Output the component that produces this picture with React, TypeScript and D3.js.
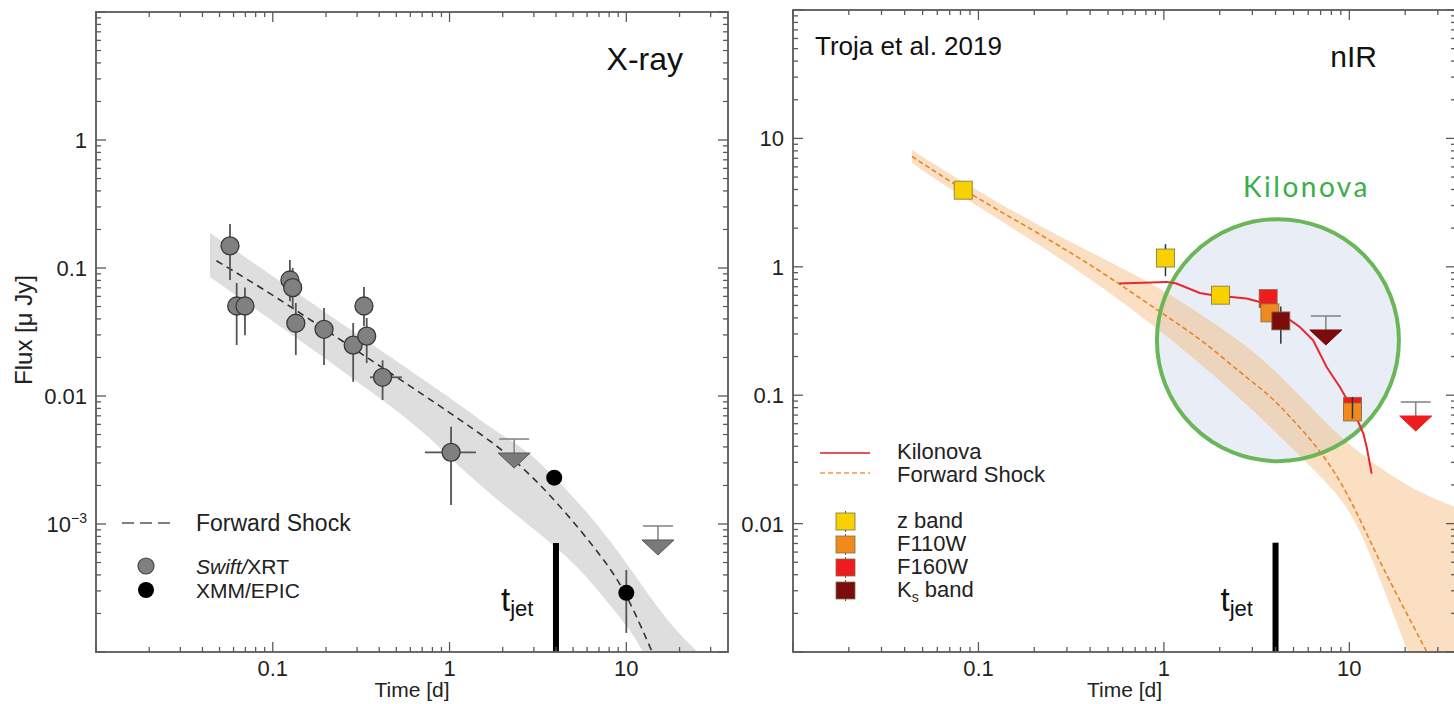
import React from 'react';
import * as d3 from 'd3';

const FONT = '"Liberation Sans", Arial, Helvetica, sans-serif';

// shared time axis (days)
const timeDomain = [0.01, 37.6];
const timeTickValues = [0.1, 1, 10];
const timeTickText = ['0.1', '1', '10'];
const tJet = 4;

// ---------- X-ray panel ----------
const xrayDomain = [1e-4, 10];
const xrayTickValues = [1, 0.1, 0.01, 1e-3];
const xrayTickText = ['1', '0.1', '0.01', '10^-3'];
const xrayJetTop = 7.1e-4;

const xrtTime = [0.0573, 0.0625, 0.0696, 0.125, 0.1296, 0.135, 0.195, 0.285, 0.328, 0.34, 0.418, 1.02];
const xrtFlux = [0.149, 0.0505, 0.0505, 0.0806, 0.0702, 0.037, 0.0332, 0.025, 0.0505, 0.0294, 0.014, 0.00363];
const xrtFluxLo = [0.0806, 0.025, 0.0298, 0.055, 0.048, 0.0209, 0.0175, 0.0129, 0.035, 0.0181, 0.0093, 0.00141];
const xrtFluxHi = [0.221, 0.0764, 0.0704, 0.1155, 0.1, 0.0533, 0.0487, 0.0372, 0.0711, 0.0407, 0.019, 0.00575];
const xrtTimeLo = [null, null, null, null, null, null, null, null, null, null, 0.355, 0.726];
const xrtTimeHi = [null, null, null, null, null, null, null, null, null, null, 0.538, 1.41];

const xmmTime = [3.91, 10];
const xmmFlux = [0.0023, 2.9e-4];
const xmmFluxLo = [null, 1.41e-4];
const xmmFluxHi = [null, 4.37e-4];

const xrtLimitTime = [2.32, 15.1];
const xrtLimitFlux = [0.00461, 9.65e-4];

const xrayFsTime = [0.048, 0.1, 0.3, 0.76, 1.23, 2.25, 4.14, 7.57, 10, 14];
const xrayFsFlux = [0.114, 0.062, 0.0225, 0.0096, 0.0061, 0.0034, 0.00145, 5.2e-4, 2.9e-4, 1e-4];

const xrayBandUpTime = [0.0441, 0.42, 1.0, 1.545, 2.4, 3.04, 4.21, 6.22, 9.2, 13.6, 18.8, 25.4];
const xrayBandUpFlux = [0.1877, 0.0221, 0.0098, 0.0062, 0.0042, 0.0033, 0.0021, 0.00118, 5.9e-4, 2.69e-4, 1.49e-4, 1e-4];
const xrayBandLoTime = [0.0441, 0.621, 0.918, 1.93, 4.99, 7.1, 10.9, 12.4];
const xrayBandLoFlux = [0.0851, 0.0065, 0.00365, 0.00146, 5.24e-4, 2.89e-4, 1.41e-4, 1e-4];

// ---------- nIR panel ----------
const nirDomain = [1e-3, 100];
const nirTickValues = [10, 1, 0.1, 0.01];
const nirTickText = ['10', '1', '0.1', '0.01'];
const nirJetTop = 7.1e-3;

const zTime = [0.0828, 1.02, 2.02];
const zFlux = [3.95, 1.17, 0.601];
const zLo = [null, 0.845, 0.58];
const zHi = [null, 1.5, 0.63];

const f160Time = [3.65, 10.4];
const f160Flux = [0.566, 0.0819];
const f160Lo = [null, null];
const f160Hi = [null, null];

const f110Time = [3.73, 10.4];
const f110Flux = [0.4375, 0.074];
const f110Lo = [null, 0.0657];
const f110Hi = [null, 0.0968];

const ksTime = [4.27];
const ksFlux = [0.379];
const ksLo = [0.252];
const ksHi = [0.49];

const ksLimitTime = [7.47];
const ksLimitFlux = [0.414];
const f160LimitTime = [22.8];
const f160LimitFlux = [0.0885];

const knTime = [0.574, 1.034, 1.17, 1.56, 1.845, 2.79, 3.29, 4.59, 5.41, 6.38, 7.54, 8.89, 10.5, 11.9, 12.4, 13.2];
const knFlux = [0.741, 0.763, 0.741, 0.626, 0.601, 0.566, 0.532, 0.402, 0.34, 0.268, 0.166, 0.116, 0.0762, 0.0502, 0.0395, 0.0245];

const nirFsTime = [0.0438, 0.0828, 0.1974, 0.452, 0.951, 1.62, 2.57, 3.73, 4.78, 6.93, 9.8, 13.9, 18.5, 26.2];
const nirFsFlux = [7.24, 3.95, 1.93, 0.941, 0.445, 0.268, 0.15, 0.1, 0.068, 0.038, 0.0175, 0.0058, 0.0026, 0.001];

const nirBandUpTime = [0.0438, 0.0828, 0.1967, 0.452, 0.771, 1.025, 2.35, 3.59, 5.41, 8.15, 12.3, 21.2, 36.6];
const nirBandUpFlux = [8.11, 4.55, 2.2, 1.2, 0.8, 0.64, 0.293, 0.18, 0.0998, 0.0533, 0.0322, 0.0188, 0.0136];
const nirBandLoTime = [0.0438, 0.0828, 0.1967, 0.452, 0.951, 1.56, 2.91, 4.6, 6.93, 10.3, 13.7, 17.4, 20.7];
const nirBandLoFlux = [6.42, 3.45, 1.6, 0.72, 0.32, 0.177, 0.081, 0.0422, 0.0238, 0.0127, 4.72e-3, 1.93e-3, 1e-3];

// kilonova circle annotation (centre in data units, radius in px)
const kilonovaCentre = [4.12, 0.268];
const kilonovaRadius = 121;

const colors = {
  z: '#f7d200',
  f110: '#f08a1c',
  f160: '#ee1c1c',
  ks: '#7a0c0c',
  kn: '#e8262e',
  fsOrange: '#e5801e',
  green: '#6cb65a',
  greenText: '#3aae4a',
};

const isMajor = (v: number) => Math.abs(Math.log10(v) - Math.round(Math.log10(v))) < 1e-6;

function Frame({ x, y, yTickValues, yTickText }: any) {
  const [left, right] = x.range();
  const [bottom, top] = y.range();
  const xt = x.ticks();
  const yt = y.ticks();
  const stroke = '#5a5a5a';
  return (
    <g>
      <rect x={left} y={top} width={right - left} height={bottom - top} fill="none" stroke={stroke} strokeWidth={1.8} />
      {xt.map((v: number, i: number) => {
        const px = x(v);
        const len = isMajor(v) ? 10 : 5;
        return (
          <g key={'x' + i}>
            <line x1={px} x2={px} y1={bottom} y2={bottom - len} stroke={stroke} strokeWidth={1.3} />
            <line x1={px} x2={px} y1={top} y2={top + len} stroke={stroke} strokeWidth={1.3} />
          </g>
        );
      })}
      {yt.map((v: number, i: number) => {
        const py = y(v);
        const len = isMajor(v) ? 10 : 5;
        return (
          <g key={'y' + i}>
            <line x1={left} x2={left + len} y1={py} y2={py} stroke={stroke} strokeWidth={1.3} />
            <line x1={right} x2={right - len} y1={py} y2={py} stroke={stroke} strokeWidth={1.3} />
          </g>
        );
      })}
      {timeTickValues.map((v, i) => (
        <text key={'xl' + i} x={x(v)} y={bottom + 24} textAnchor="middle" fontSize={22} fontFamily={FONT} fill="#222">
          {timeTickText[i]}
        </text>
      ))}
      {yTickValues.map((v: number, i: number) => {
        const t = yTickText[i];
        const parts = t.split('^');
        return (
          <text key={'yl' + i} x={left - 9} y={y(v) + 8} textAnchor="end" fontSize={22} fontFamily={FONT} fill="#222">
            {parts.length > 1 ? (
              <>
                <tspan>{parts[0]}</tspan>
                <tspan dy={-9} fontSize={14}>{parts[1].replace('-', '\u2212')}</tspan>
              </>
            ) : t}
          </text>
        );
      })}
      <text x={(left + right) / 2} y={bottom + 45} textAnchor="middle" fontSize={21} fontFamily={FONT} fill="#222">
        Time [d]
      </text>
    </g>
  );
}

function bandPath(x: any, y: any, upT: number[], upF: number[], loT: number[], loF: number[], corner?: number[]) {
  const line = d3.line().curve(d3.curveBasis);
  const up = line(upT.map((t, i) => [x(t), y(upF[i])]) as any) as string;
  const loPts = loT.map((t, i) => [x(t), y(loF[i])]).reverse();
  const lo = line(loPts as any) as string;
  const mid = corner ? `L${corner[0]},${corner[1]}` : '';
  return up + mid + 'L' + lo.slice(1) + 'Z';
}

function ErrorBars({ x, y, t, f, lo, hi, tlo, thi, stroke, width }: any) {
  return (
    <g stroke={stroke} strokeWidth={width}>
      {t.map((tv: number, i: number) => (
        <g key={i}>
          {lo[i] != null && <line x1={x(tv)} x2={x(tv)} y1={y(lo[i])} y2={y(hi[i])} />}
          {tlo && tlo[i] != null && <line x1={x(tlo[i])} x2={x(thi[i])} y1={y(f[i])} y2={y(f[i])} />}
        </g>
      ))}
    </g>
  );
}

function UpperLimit({ cx, cy, fill, stroke }: any) {
  return (
    <g>
      <line x1={cx - 15} x2={cx + 15} y1={cy} y2={cy} stroke="#888" strokeWidth={1.6} />
      <line x1={cx} x2={cx} y1={cy} y2={cy + 14} stroke="#888" strokeWidth={1.6} />
      <path d={`M${cx - 16},${cy + 14}L${cx + 16},${cy + 14}L${cx},${cy + 29}Z`} fill={fill} stroke={stroke} strokeWidth={1} />
    </g>
  );
}

function Squares({ x, y, t, f, color }: any) {
  return (
    <g>
      {t.map((tv: number, i: number) => (
        <rect key={i} x={x(tv) - 9} y={y(f[i]) - 9} width={18} height={18} fill={color} stroke="#7d6f4a" strokeWidth={1} strokeOpacity={0.8} />
      ))}
    </g>
  );
}

function TJet({ x, y, top }: any) {
  const px = x(tJet);
  const [bottom] = y.range();
  return (
    <g>
      <rect x={px - 3} y={y(top)} width={6} height={bottom - y(top)} fill="#000" />
      <text x={px - 55} y={611} fontFamily={FONT} fill="#111">
        <tspan fontSize={33}>t</tspan>
        <tspan fontSize={22} dy={5}>jet</tspan>
      </text>
    </g>
  );
}

export default function App() {
  const xL = d3.scaleLog().domain(timeDomain).range([96, 728]);
  const yL = d3.scaleLog().domain(xrayDomain).range([652, 12]);
  const xR = d3.scaleLog().domain(timeDomain).range([793, 1456]);
  const yR = d3.scaleLog().domain(nirDomain).range([652, 10]);

  const curve = d3.line().curve(d3.curveBasis);
  const lineL = (ts: number[], fs: number[]) => curve(ts.map((t, i) => [xL(t), yL(fs[i])]) as any) as string;
  const lineR = (ts: number[], fs: number[]) => curve(ts.map((t, i) => [xR(t), yR(fs[i])]) as any) as string;
  const knLine = d3.line().curve(d3.curveLinear)(knTime.map((t, i) => [xR(t), yR(knFlux[i])]) as any) as string;

  return (
    <svg width={1454} height={704} style={{ position: 'absolute', left: 0, top: 0, background: '#fff' }}>
      <defs>
        <clipPath id="clipL"><rect x={96} y={12} width={632} height={640} /></clipPath>
        <clipPath id="clipR"><rect x={793} y={10} width={663} height={642} /></clipPath>
      </defs>
      <rect x={0} y={0} width={1454} height={704} fill="#fff" />

      {/* ---------- X-ray ---------- */}
      <g clipPath="url(#clipL)">
        <path d={bandPath(xL, yL, xrayBandUpTime, xrayBandUpFlux, xrayBandLoTime, xrayBandLoFlux)} fill="#dedede" />
        <path d={lineL(xrayFsTime, xrayFsFlux)} fill="none" stroke="#333" strokeWidth={1.6} strokeDasharray="7,5" />
        <ErrorBars x={xL} y={yL} t={xrtTime} f={xrtFlux} lo={xrtFluxLo} hi={xrtFluxHi} tlo={xrtTimeLo} thi={xrtTimeHi} stroke="#555" width={1.8} />
        <ErrorBars x={xL} y={yL} t={xmmTime} f={xmmFlux} lo={xmmFluxLo} hi={xmmFluxHi} stroke="#555" width={1.8} />
        {xrtTime.map((t, i) => (
          <circle key={i} cx={xL(t)} cy={yL(xrtFlux[i])} r={9} fill="#808080" stroke="#383838" strokeWidth={1.3} />
        ))}
        {xmmTime.map((t, i) => (
          <circle key={i} cx={xL(t)} cy={yL(xmmFlux[i])} r={8} fill="#000" />
        ))}
        {xrtLimitTime.map((t, i) => (
          <UpperLimit key={i} cx={xL(t)} cy={yL(xrtLimitFlux[i])} fill="#7a7a7a" stroke="#555" />
        ))}
        <TJet x={xL} y={yL} top={xrayJetTop} />
      </g>
      <Frame x={xL} y={yL} yTickValues={xrayTickValues} yTickText={xrayTickText} />
      <text transform="translate(32,330) rotate(-90)" textAnchor="middle" fontSize={24} fontFamily={FONT} fill="#222">
        Flux [μ Jy]
      </text>
      <text x={683} y={70} textAnchor="end" fontSize={32} fontFamily={FONT} fill="#111">X-ray</text>

      {/* legend X-ray */}
      <line x1={122} x2={170} y1={523} y2={523} stroke="#555" strokeWidth={1.6} strokeDasharray="12,6" />
      <text x={196} y={531} fontSize={23} fontFamily={FONT} fill="#222">Forward Shock</text>
      <circle cx={146} cy={566} r={8} fill="#808080" stroke="#444" strokeWidth={1.2} />
      <text x={196} y={574} fontSize={21} fontFamily={FONT} fill="#222">
        <tspan fontStyle="italic">Swift/</tspan>XRT
      </text>
      <circle cx={146} cy={590} r={8} fill="#000" />
      <text x={196} y={598} fontSize={21} fontFamily={FONT} fill="#222">XMM/EPIC</text>

      {/* ---------- nIR ---------- */}
      <g clipPath="url(#clipR)">
        <circle cx={xR(kilonovaCentre[0])} cy={yR(kilonovaCentre[1])} r={kilonovaRadius} fill="#e9eef6" />
        <path d={bandPath(xR, yR, nirBandUpTime, nirBandUpFlux, nirBandLoTime, nirBandLoFlux, [1470, 670])} fill="#f5a55a" fillOpacity={0.36} />
        <circle cx={xR(kilonovaCentre[0])} cy={yR(kilonovaCentre[1])} r={kilonovaRadius} fill="none" stroke={colors.green} strokeWidth={4} />
        <path d={lineR(nirFsTime, nirFsFlux)} fill="none" stroke={colors.fsOrange} strokeWidth={1.5} strokeDasharray="5,3" />
        <path d={knLine} fill="none" stroke={colors.kn} strokeWidth={2} />
        <ErrorBars x={xR} y={yR} t={zTime} f={zFlux} lo={zLo} hi={zHi} stroke="#333" width={1.5} />
        <ErrorBars x={xR} y={yR} t={ksTime} f={ksFlux} lo={ksLo} hi={ksHi} stroke="#333" width={1.5} />
        <Squares x={xR} y={yR} t={f160Time} f={f160Flux} color={colors.f160} />
        <Squares x={xR} y={yR} t={f110Time} f={f110Flux} color={colors.f110} />
        <Squares x={xR} y={yR} t={ksTime} f={ksFlux} color={colors.ks} />
        <Squares x={xR} y={yR} t={zTime} f={zFlux} color={colors.z} />
        <ErrorBars x={xR} y={yR} t={f110Time} f={f110Flux} lo={f110Lo} hi={f110Hi} stroke="#333" width={1.5} />
        <ErrorBars x={xR} y={yR} t={f160Time} f={f160Flux} lo={f160Lo} hi={f160Hi} stroke="#333" width={1.5} />
        {ksLimitTime.map((t, i) => (
          <UpperLimit key={i} cx={xR(t)} cy={yR(ksLimitFlux[i])} fill={colors.ks} stroke={colors.ks} />
        ))}
        {f160LimitTime.map((t, i) => (
          <UpperLimit key={i} cx={xR(t)} cy={yR(f160LimitFlux[i])} fill={colors.f160} stroke={colors.f160} />
        ))}
        <TJet x={xR} y={yR} top={nirJetTop} />
      </g>
      <Frame x={xR} y={yR} yTickValues={nirTickValues} yTickText={nirTickText} />
      <text x={815} y={55} fontSize={26} fontFamily={FONT} fill="#111">Troja et al. 2019</text>
      <text x={1377} y={67} textAnchor="end" fontSize={30} fontFamily={FONT} fill="#111">nIR</text>
      <text x={1243} y={197} fontSize={28} letterSpacing={2.5} fontFamily="Lato, 'Open Sans', sans-serif" fill={colors.greenText}>Kilonova</text>

      {/* legend nIR */}
      <line x1={820} x2={870} y1={453} y2={453} stroke={colors.kn} strokeWidth={2} strokeOpacity={0.8} />
      <text x={897} y={459} fontSize={22} fontFamily={FONT} fill="#222">Kilonova</text>
      <line x1={820} x2={870} y1={473} y2={473} stroke={colors.fsOrange} strokeWidth={1.6} strokeDasharray="5,3" strokeOpacity={0.8} />
      <text x={897} y={482} fontSize={22} fontFamily={FONT} fill="#222">Forward Shock</text>
      {[colors.z, colors.f110, colors.f160, colors.ks].map((c, i) => (
        <g key={i}>
          <line x1={845.5} x2={845.5} y1={511 + i * 23} y2={532 + i * 23} stroke="#555" strokeWidth={1} />
          <rect x={836} y={513 + i * 23} width={19} height={17} fill={c} stroke="#7d6f4a" strokeWidth={0.8} />
        </g>
      ))}
      <text x={897} y={528} fontSize={22} fontFamily={FONT} fill="#222">z band</text>
      <text x={897} y={551} fontSize={22} fontFamily={FONT} fill="#222">F110W</text>
      <text x={897} y={574} fontSize={22} fontFamily={FONT} fill="#222">F160W</text>
      <text x={897} y={597} fontSize={22} fontFamily={FONT} fill="#222">
        K<tspan fontSize={14} dy={5}>s</tspan><tspan dy={-5}> band</tspan>
      </text>
    </svg>
  );
}
